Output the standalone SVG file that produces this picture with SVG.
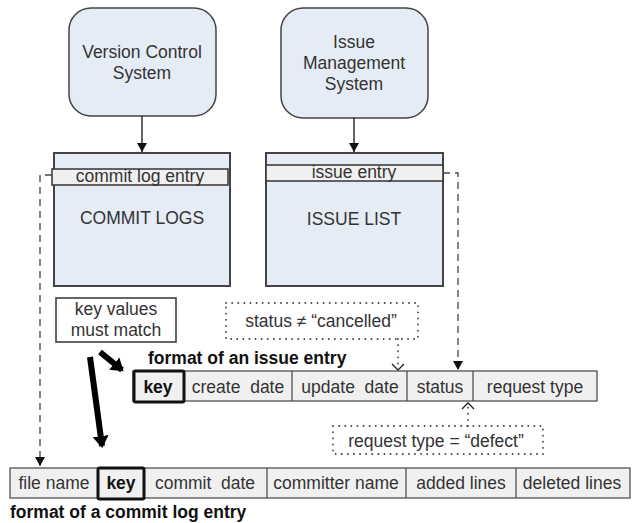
<svg xmlns="http://www.w3.org/2000/svg" width="635" height="523" viewBox="0 0 635 523">
<style>
text{font-family:"Liberation Sans",Arial,sans-serif;fill:#333;font-size:17.5px;text-anchor:middle;dominant-baseline:central}
.sys{fill:#e6ecf6;stroke:#444;stroke-width:1.5}
.store{fill:#e6ecf6;stroke:#444;stroke-width:2}
.strip{fill:#f0f0f0;stroke:#333;stroke-width:1.5}
.cell{fill:#f0f0f0;stroke:#444;stroke-width:1.2}
.keyc{fill:#f0f0f0;stroke:#111;stroke-width:3}
.b{font-weight:bold;fill:#111}
.dot{fill:none;stroke:#444;stroke-width:1.8;stroke-dasharray:0.1 6;stroke-linecap:round}
.dash{fill:none;stroke:#444;stroke-width:1.3;stroke-dasharray:7 5}
.solid{fill:none;stroke:#111;stroke-width:1.3}
.thick{fill:none;stroke:#000;stroke-width:6}
</style>
<defs>
<marker id="tri" markerWidth="10" markerHeight="10" refX="9" refY="5" orient="auto" markerUnits="userSpaceOnUse"><path d="M0,0 L9,5 L0,10 z" fill="#111"/></marker>
<marker id="big" markerWidth="20" markerHeight="20" refX="10" refY="10" orient="auto" markerUnits="userSpaceOnUse"><path d="M0,2 L12,10 L0,18 z" fill="#000"/></marker>
</defs>
<g id="vcs"><rect class="sys" x="69" y="8" width="147" height="108" rx="22"/><text x="142" y="52">Version Control</text><text x="142" y="73">System</text></g>
<g id="ims"><rect class="sys" x="281" y="8" width="147" height="110" rx="22"/><text x="354" y="42">Issue</text><text x="354" y="63">Management</text><text x="354" y="84">System</text></g>
<g id="commitlogs"><rect class="store" x="54" y="153" width="176" height="133"/><rect class="strip" x="52" y="169" width="176" height="16"/><text x="140" y="176">commit log entry</text><text x="142" y="218">COMMIT LOGS</text></g>
<g id="issuelist"><rect class="store" x="266" y="153" width="177" height="133"/><rect class="strip" x="266" y="165" width="177" height="16"/><text x="354" y="172">issue entry</text><text x="354" y="219">ISSUE LIST</text></g>
<g id="keynote"><rect x="56" y="298" width="120" height="44" fill="#fff" stroke="#333" stroke-width="1.5"/><text x="116" y="309">key values</text><text x="116" y="330">must match</text></g>
<g id="cond1"><rect class="dot" x="226" y="303" width="192" height="36"/><text x="321" y="321">status ≠ “cancelled”</text></g>
<g id="cond2"><rect class="dot" x="333" y="426" width="210" height="28"/><text x="436" y="441">request type = “defect”</text></g>
<g id="issueentry">
<text class="b" x="148" y="358" style="text-anchor:start">format of an issue entry</text>
<rect class="cell" x="133" y="371" width="464" height="30"/>
<line x1="292" y1="371" x2="292" y2="401" stroke="#444" stroke-width="1.2"/>
<line x1="407" y1="371" x2="407" y2="401" stroke="#444" stroke-width="1.2"/>
<line x1="473" y1="371" x2="473" y2="401" stroke="#444" stroke-width="1.2"/>
<rect class="keyc" x="134" y="371" width="50" height="31" rx="1.5"/>
<text class="b" x="158" y="387">key</text>
<text x="238" y="387">create&#160; date</text>
<text x="350" y="387">update&#160; date</text>
<text x="440" y="387">status</text>
<text x="535" y="387">request type</text>
</g>
<g id="commitentry">
<rect class="cell" x="10" y="468" width="620" height="30"/>
<line x1="267" y1="468" x2="267" y2="498" stroke="#444" stroke-width="1.2"/>
<line x1="406" y1="468" x2="406" y2="498" stroke="#444" stroke-width="1.2"/>
<line x1="516" y1="468" x2="516" y2="498" stroke="#444" stroke-width="1.2"/>
<rect class="keyc" x="98" y="468" width="46" height="31" rx="1.5"/>
<text x="54" y="483">file name</text>
<text class="b" x="121" y="483">key</text>
<text x="205" y="483">commit&#160; date</text>
<text x="336" y="483">committer name</text>
<text x="461" y="483">added lines</text>
<text x="572" y="483">deleted lines</text>
<text class="b" x="10" y="512" style="text-anchor:start">format of a commit log entry</text>
</g>
<g id="connectors">
<line class="solid" x1="142" y1="116" x2="142" y2="152" marker-end="url(#tri)"/>
<line class="solid" x1="354" y1="118" x2="354" y2="152" marker-end="url(#tri)"/>
<polyline class="dash" points="52,175 40,175 40,466" marker-end="url(#tri)"/>
<polyline class="dash" points="443,173 458,173 458,370" marker-end="url(#tri)"/>
<line class="dot" x1="398" y1="339" x2="398" y2="368"/>
<polyline points="392,364 398,370 404,364" fill="none" stroke="#222" stroke-width="1.3"/>
<line class="dot" x1="468" y1="426" x2="468" y2="405"/>
<polyline points="462,409 468,403 474,409" fill="none" stroke="#222" stroke-width="1.3"/>
<line class="thick" x1="100" y1="352" x2="122" y2="370" marker-end="url(#big)"/>
<line class="thick" x1="90" y1="357" x2="102" y2="446" marker-end="url(#big)"/>
</g>
</svg>
